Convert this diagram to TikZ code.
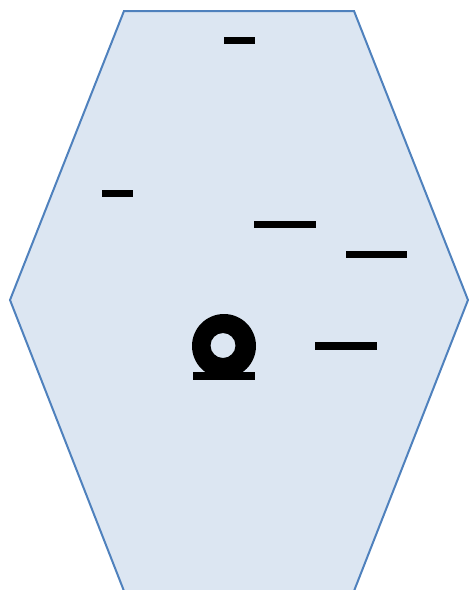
\documentclass[tikz,border=0pt]{standalone}
\definecolor{hexfill}{HTML}{DCE6F2}
\definecolor{hexline}{HTML}{4F81BD}
\tikzset{
  bar/.style={fill=black, draw=none},
  hexa/.style={fill=hexfill, draw=hexline, line width=2pt, line join=miter}
}
\begin{document}
\begin{tikzpicture}[x=1pt,y=-1pt]
\useasboundingbox (0,0) rectangle (469,590);
\draw[hexa] (124,11) -- (354,11) -- (468,300) -- (354,591) -- (124,591) -- (10,300) -- cycle;
\fill[bar] (224,37) rectangle (255,44);
\fill[bar] (102,190) rectangle (133,197);
\fill[bar] (254,221) rectangle (316,228);
\fill[bar] (346,251) rectangle (407,258);
\fill[bar] (315,342) rectangle (377,350);
\fill[black, even odd rule] (224,346) circle (32) (223,345.5) circle (12.5);
\fill[bar] (193,372) rectangle (255,380);
\end{tikzpicture}
\end{document}
